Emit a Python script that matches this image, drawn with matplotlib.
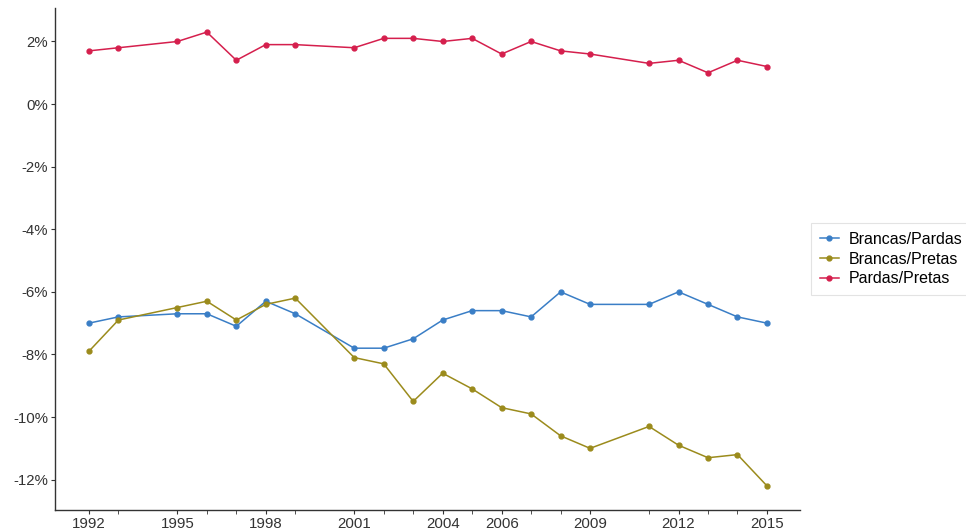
import numpy as np
import matplotlib.pyplot as plt
from matplotlib.ticker import FuncFormatter

plt.rcParams['font.family'] = ['Liberation Sans', 'DejaVu Sans']

# Dados (diferenças em %)
anos = [1992, 1993, 1995, 1996, 1997, 1998, 1999, 2001, 2002, 2003, 2004,
        2005, 2006, 2007, 2008, 2009, 2011, 2012, 2013, 2014, 2015]
brancas_pardas = [-7.0, -6.8, -6.7, -6.7, -7.1, -6.3, -6.7, -7.8, -7.8, -7.5, -6.9,
                  -6.6, -6.6, -6.8, -6.0, -6.4, -6.4, -6.0, -6.4, -6.8, -7.0]
brancas_pretas = [-7.9, -6.9, -6.5, -6.3, -6.9, -6.4, -6.2, -8.1, -8.3, -9.5, -8.6,
                  -9.1, -9.7, -9.9, -10.6, -11.0, -10.3, -10.9, -11.3, -11.2, -12.2]
pardas_pretas = [1.7, 1.8, 2.0, 2.3, 1.4, 1.9, 1.9, 1.8, 2.1, 2.1, 2.0,
                 2.1, 1.6, 2.0, 1.7, 1.6, 1.3, 1.4, 1.0, 1.4, 1.2]

anos_rotulo = [1992, 1995, 1998, 2001, 2004, 2006, 2009, 2012, 2015]
y_ticks = [2, 0, -2, -4, -6, -8, -10, -12]

series = [
    ("Brancas/Pardas", brancas_pardas, "#3a7ec6"),
    ("Brancas/Pretas", brancas_pretas, "#9b8b1c"),
    ("Pardas/Pretas", pardas_pretas, "#d51f4d"),
]

fig = plt.figure(figsize=(9.66, 5.31), dpi=100)
ax = fig.add_axes([55 / 966, 21 / 531, 745 / 966, 502 / 531])

for nome, vals, cor in series:
    ax.plot(anos, vals, color=cor, lw=1.1, marker="o", ms=3.5, label=nome)

ax.set_xlim(1990.85, 2016.12)
ax.set_ylim(-12.97, 3.07)
ax.set_xticks(anos_rotulo)
ax.set_xticks(anos, minor=True)
ax.set_yticks(y_ticks)
ax.yaxis.set_major_formatter(FuncFormatter(lambda v, p: f"{v:.0f}%"))
ax.tick_params(axis="both", labelsize=10.8, colors="#333333", length=3, pad=2)
ax.tick_params(axis="x", which="minor", length=3, color="#333333")
ax.tick_params(labelcolor="#333333")

for s in ["top", "right"]:
    ax.spines[s].set_visible(False)
for s in ["left", "bottom"]:
    ax.spines[s].set_color("#333333")
    ax.spines[s].set_linewidth(1.0)

leg = fig.legend(loc="center left", bbox_to_anchor=(811 / 966, 1 - 259 / 531),
                 frameon=True, fontsize=11.5, handlelength=1.2, handletextpad=0.6,
                 fancybox=False, borderpad=0.55, labelspacing=0.3, borderaxespad=0)
leg.get_frame().set_edgecolor("#dddddd")
leg.get_frame().set_linewidth(0.8)

fig.savefig("out.png", dpi=100)
